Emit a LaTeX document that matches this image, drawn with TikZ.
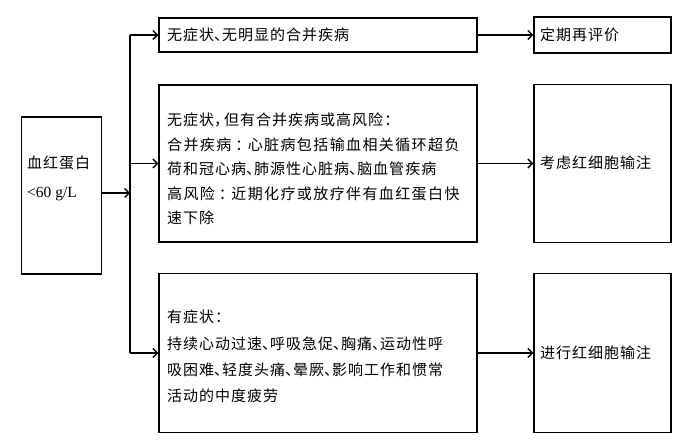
\documentclass[tikz,border=0pt]{standalone}
\usepackage{fontspec}
\setmainfont{Liberation Serif}
\newfontfamily\cjk{Noto Sans CJK SC}[LetterSpace=6.7]
\newfontfamily\cjkw{Noto Sans CJK SC}[LetterSpace=9.3]
\newcommand\dn{\makebox[8pt][l]{、}}
\newcommand\cm{\makebox[10pt][l]{，}}
\newcommand\cl{\makebox[16.4pt][l]{\hspace{4pt}：}}
\usetikzlibrary{arrows.meta}
\begin{document}
\begin{tikzpicture}[x=1pt,y=-1pt,
  box/.style={draw, line width=1.4pt, inner sep=0pt},
  lbl/.style={anchor=west, inner sep=0pt, align=left, font=\cjk\fontsize{15}{24.5}\selectfont},
  conn/.style={line width=1.3pt},
  arr/.style={line width=1.3pt, -{Straight Barb[length=4.5pt,width=9pt,line width=1.3pt]}}]
\path[use as bounding box] (0,0) rectangle (690,441);
% boxes
\node[box, minimum width=80pt, minimum height=157pt] (hb) at (61.5,195.5) {};
\node[box, minimum width=318pt, minimum height=34pt] (b1) at (318,35) {};
\node[box, minimum width=318pt, minimum height=157pt] (b2) at (318,163.5) {};
\node[box, minimum width=318pt, minimum height=159pt] (b3) at (318,353) {};
\node[box, minimum width=137pt, minimum height=36pt] (r1) at (602.5,35) {};
\node[box, minimum width=137pt, minimum height=158pt] (r2) at (602.5,163.5) {};
\node[box, minimum width=137pt, minimum height=159pt] (r3) at (602.5,353) {};
% texts
\node[lbl, font=\fontsize{15.5}{29}\selectfont] (thb) at (27,178) {{\cjk\fontsize{15}{29}\selectfont 血红蛋白}\\<60 g/L};
\node[lbl] (tb1) at (167,35) {无症状\dn 无明显的合并疾病};
\node[lbl] (tb2) at (167,169) {无症状\cm 但有合并疾病或高风险：\\{\cjkw 合并疾病\cl 心脏病包括输血相关循环超负}\\荷和冠心病\dn 肺源性心脏病\dn 脑血管疾病\\{\cjkw 高风险\cl 近期化疗或放疗伴有血红蛋白快}\\速下除};
\node[lbl, font=\cjk\fontsize{15}{26.2}\selectfont] (tb3) at (167,356.5) {有症状：\\持续心动过速\dn 呼吸急促\dn 胸痛\dn 运动性呼\\吸困难\dn 轻度头痛\dn 晕厥\dn 影响工作和惯常\\活动的中度疲劳};
\node[lbl] (tr1) at (540,35) {定期再评价};
\node[lbl] (tr2) at (540,163) {考虑红细胞输注};
\node[lbl] (tr3) at (540,353) {进行红细胞输注};
% connectors
\coordinate (j) at (130,193);
\coordinate (jt) at (130,35);
\coordinate (jm) at (130,163.5);
\coordinate (jb) at (130,353);
\draw[arr] (hb.east |- j) -- (j);
\draw[conn] (jt) -- (jb);
\draw[arr] (jt) -- (b1.west);
\draw[arr] (jm) -- (b2.west);
\draw[arr] (jb) -- (b3.west);
\draw[arr] (b1.east) -- (r1.west);
\draw[arr] (b2.east) -- (r2.west);
\draw[arr] (b3.east) -- (r3.west);
\end{tikzpicture}
\end{document}
